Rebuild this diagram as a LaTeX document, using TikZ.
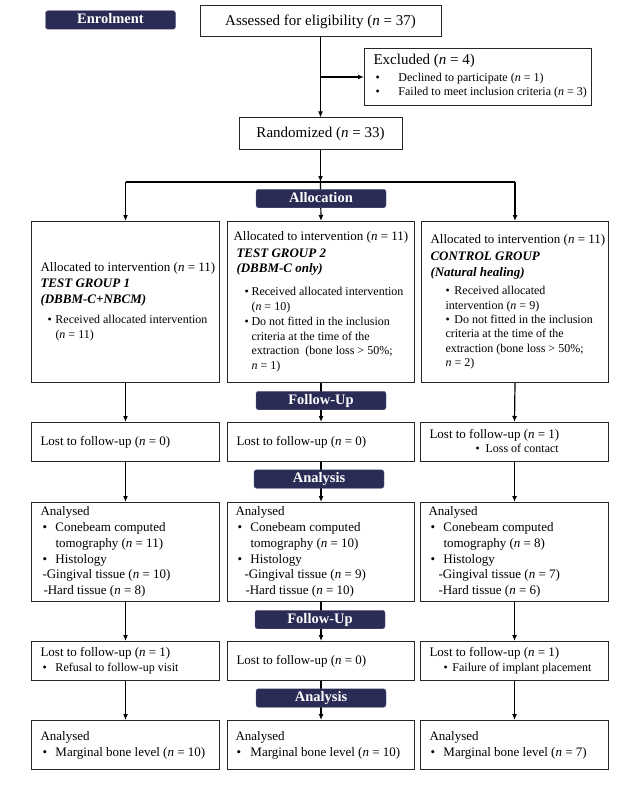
\documentclass[tikz,border=0pt]{standalone}
\usepackage{fontspec}
\setmainfont{Liberation Serif}
\usetikzlibrary{arrows.meta}
\definecolor{navy}{RGB}{42,44,86}
\newcommand{\fsn}{\fontsize{13}{15.8}\selectfont}
\newcommand{\fsl}{\fontsize{15}{17}\selectfont}
\newcommand{\fss}{\fontsize{12}{14}\selectfont}
\newcommand{\cellbox}[3]{\makebox[#1][l]{\hspace*{#2}\begin{tabular}{@{}l@{}}#3\end{tabular}}}
\newcommand{\bu}[1]{\makebox[#1][l]{\textbullet}}
\tikzset{
  box/.style={draw=black!85, line width=1pt, inner sep=0pt, anchor=north west, font=\fsn},
  tag/.style={fill=navy, draw=navy!75!white, line width=0.4pt, rounded corners=2.5pt,
    text=white, font=\bfseries\fontsize{14.5}{16}\selectfont, inner sep=0pt,
    minimum width=130pt, minimum height=18.5pt, text height=10pt, text depth=3pt},
  arr/.style={-{Latex[length=6pt,width=5pt]}, line width=1.2pt},
  ln/.style={line width=1.2pt}
}
\begin{document}
\begin{tikzpicture}[x=1pt,y=-1pt]
\useasboundingbox (0,0) rectangle (619,789);
\fill[white] (0,0) rectangle (619,789);

% top part
\node[box, anchor=center, minimum width=241pt, minimum height=31pt, font=\fsl] (assess) at (320.5,21.5)
  {Assessed for eligibility (\textit{n} = 37)};
\node[box, minimum width=227pt, minimum height=57pt] (excl) at (364,48)
  {\cellbox{227pt}{9pt}{\fsl Excluded (\textit{n} = 4)\\[1pt]
   \fss\hspace*{2pt}\bu{23pt}Declined to participate (\textit{n} = 1)\\[-1pt]
   \fss\hspace*{2pt}\bu{23pt}Failed to meet inclusion criteria (\textit{n} = 3)}};
\node[box, anchor=center, minimum width=163pt, minimum height=31pt, font=\fsl] (rand) at (320.5,133.5)
  {Randomized (\textit{n} = 33)};

% row 1
\node[box, minimum width=188pt, minimum height=161pt] (l1) at (31,221)
  {\cellbox{188pt}{9pt}{Allocated to intervention (\textit{n} = 11)\\
   \textbf{\textit{TEST GROUP 1}}\\
   \textbf{\textit{(DBBM-C+NBCM)}}\\[5pt]
   \fss\hspace*{7pt}\bu{8pt}Received allocated intervention\\[-1pt]
   \fss\hspace*{15pt}(\textit{n} = 11)}};
\node[box, minimum width=187pt, minimum height=161pt] (m1) at (227,221)
  {\cellbox{187pt}{6pt}{Allocated to intervention (\textit{n} = 11)\\[0.5pt]
   \hspace*{3pt}\textbf{\textit{TEST GROUP 2}}\\
   \hspace*{3pt}\textbf{\textit{(DBBM-C only)}}\\[7pt]
   \fss\hspace*{11pt}\bu{7pt}Received allocated intervention\\[-1pt]
   \fss\hspace*{18pt}(\textit{n} = 10)\\[-1pt]
   \fss\hspace*{11pt}\bu{7pt}Do not fitted in the inclusion\\[-1pt]
   \fss\hspace*{18pt}criteria at the time of the\\[-1pt]
   \fss\hspace*{18pt}extraction\ \ (bone loss > 50\%;\\[-1pt]
   \fss\hspace*{18pt}\textit{n} = 1)}};
\node[box, minimum width=187pt, minimum height=161pt] (r1) at (421,221)
  {\cellbox{187pt}{9pt}{Allocated to intervention (\textit{n} = 11)\\[0.5pt]
   \textbf{\textit{CONTROL GROUP}}\\
   \textbf{\textit{(Natural healing)}}\\[3pt]
   \fss\hspace*{15pt}\bu{9pt}Received allocated\\[-1.5pt]
   \fss\hspace*{15pt}intervention (\textit{n} = 9)\\[-1.5pt]
   \fss\hspace*{15pt}\bu{9pt}Do not fitted in the inclusion\\[-1.5pt]
   \fss\hspace*{15pt}criteria at the time of the\\[-1.5pt]
   \fss\hspace*{15pt}extraction (bone loss > 50\%;\\[-1.5pt]
   \fss\hspace*{15pt}\textit{n} = 2)}};

% row 2
\node[box, minimum width=188pt, minimum height=39pt] (l2) at (31,422)
  {\cellbox{188pt}{9pt}{Lost to follow-up (\textit{n} = 0)}};
\node[box, minimum width=187pt, minimum height=39pt] (m2) at (227,422)
  {\cellbox{187pt}{9pt}{Lost to follow-up (\textit{n} = 0)}};
\node[box, minimum width=188pt, minimum height=39pt] (r2) at (420,422)
  {\cellbox{188pt}{9pt}{Lost to follow-up (\textit{n} = 1)\\[-2pt]
   \fss\hspace*{46pt}\bu{10pt}Loss of contact}};

% row 3
\node[box, minimum width=188pt, minimum height=99pt] (l3) at (31,502)
  {\cellbox{188pt}{9pt}{Analysed\\
   \hspace*{2pt}\bu{13pt}Conebeam computed\\
   \hspace*{15pt}tomography (\textit{n} = 11)\\
   \hspace*{2pt}\bu{13pt}Histology\\
   \hspace*{2pt}-Gingival tissue (\textit{n} = 10)\\
   \hspace*{3pt}-Hard tissue (\textit{n} = 8)}};
\node[box, minimum width=187pt, minimum height=99pt] (m3) at (227,502)
  {\cellbox{187pt}{8pt}{Analysed\\
   \hspace*{2pt}\bu{13pt}Conebeam computed\\
   \hspace*{15pt}tomography (\textit{n} = 10)\\
   \hspace*{2pt}\bu{13pt}Histology\\
   \hspace*{9pt}-Gingival tissue (\textit{n} = 9)\\
   \hspace*{10pt}-Hard tissue (\textit{n} = 10)}};
\node[box, minimum width=188pt, minimum height=99pt] (r3) at (420,502)
  {\cellbox{188pt}{8pt}{Analysed\\
   \hspace*{2pt}\bu{13pt}Conebeam computed\\
   \hspace*{15pt}tomography (\textit{n} = 8)\\
   \hspace*{2pt}\bu{13pt}Histology\\
   \hspace*{10pt}-Gingival tissue (\textit{n} = 7)\\
   \hspace*{10pt}-Hard tissue (\textit{n} = 6)}};

% row 4
\node[box, minimum width=188pt, minimum height=39pt] (l4) at (31,641)
  {\cellbox{188pt}{9pt}{Lost to follow-up (\textit{n} = 1)\\[-1pt]
   \fss\hspace*{2pt}\bu{13pt}Refusal to follow-up visit}};
\node[box, minimum width=187pt, minimum height=39pt] (m4) at (227,641)
  {\cellbox{187pt}{9pt}{Lost to follow-up (\textit{n} = 0)}};
\node[box, minimum width=188pt, minimum height=39pt] (r4) at (420,641)
  {\cellbox{188pt}{9pt}{Lost to follow-up (\textit{n} = 1)\\[-1pt]
   \fss\hspace*{14pt}\bu{9pt}Failure of implant placement}};

% row 5
\node[box, minimum width=188pt, minimum height=49pt] (l5) at (31,720)
  {\cellbox{188pt}{9pt}{Analysed\\
   \hspace*{2pt}\bu{13pt}Marginal bone level (\textit{n} = 10)}};
\node[box, minimum width=187pt, minimum height=49pt] (m5) at (227,720)
  {\cellbox{187pt}{8pt}{Analysed\\
   \hspace*{1pt}\bu{14pt}Marginal bone level (\textit{n} = 10)}};
\node[box, minimum width=188pt, minimum height=49pt] (r5) at (420,720)
  {\cellbox{188pt}{9pt}{Analysed\\
   \hspace*{1pt}\bu{13pt}Marginal bone level (\textit{n} = 7)}};

% connectors
\draw[arr] (assess.south) -- (rand.north);
\draw[arr] (assess.south |- excl.west) -- (excl.west);
\coordinate (j) at (320.5,182);
\draw[arr] (rand.south) -- (j);
\draw[ln] (l1.north |- j) -- (r1.north |- j);
\draw[arr] (l1.north |- j) -- (l1.north);
\draw[arr] (j) -- (m1.north);
\draw[arr] (r1.north |- j) -- (r1.north);
\foreach \c in {l,m,r}{
  \draw[arr] (\c1.south) -- (\c2.north);
  \draw[arr] (\c2.south) -- (\c3.north);
  \draw[arr] (\c3.south) -- (\c4.north);
  \draw[arr] (\c4.south) -- (\c5.north);
}

% stage labels
\node[tag] (tEnrol) at (110.5,20) {Enrolment};
\node[tag] (tAlloc) at (321,198.5) {Allocation};
\node[tag] (tFol1) at (321,400.5) {Follow-Up};
\node[tag] (tAna1) at (319,479) {Analysis};
\node[tag] (tFol2) at (320,619.5) {Follow-Up};
\node[tag] (tAna2) at (321,698) {Analysis};
\end{tikzpicture}
\end{document}
